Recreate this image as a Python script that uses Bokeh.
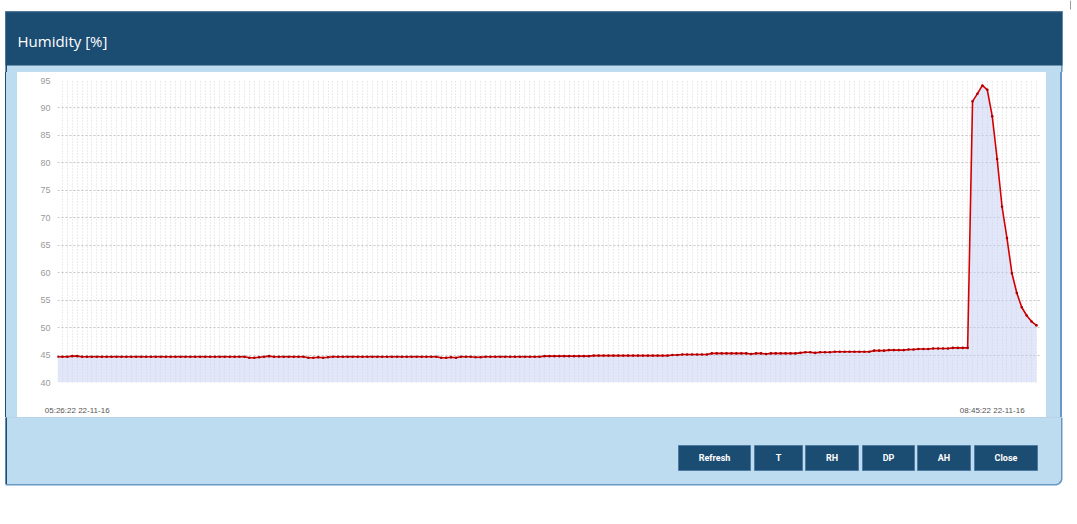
import numpy as np
import pandas as pd
from bokeh.plotting import figure
from bokeh.layouts import column, row
from bokeh.models import Range1d, FixedTicker, Spacer
from bokeh.core.properties import value
from bokeh.embed import file_html
from bokeh.resources import INLINE

# ---------------- data ----------------
TITLE = "Humidity [%]"
START_TIME = "2016-11-22 05:26:22"
X_LABELS = ["05:26:22 22-11-16", "08:45:22 22-11-16"]
Y_TICKS = [40, 45, 50, 55, 60, 65, 70, 75, 80, 85, 90, 95]
BUTTONS = ["Refresh", "T", "RH", "DP", "AH", "Close"]
HUMIDITY = [
    44.7, 44.7, 44.7, 44.8, 44.8, 44.7, 44.7, 44.7, 44.7, 44.7,
    44.7, 44.7, 44.7, 44.7, 44.7, 44.7, 44.7, 44.7, 44.7, 44.7,
    44.7, 44.7, 44.7, 44.7, 44.7, 44.7, 44.7, 44.7, 44.7, 44.7,
    44.7, 44.7, 44.7, 44.7, 44.7, 44.7, 44.7, 44.7, 44.7, 44.5,
    44.5, 44.6, 44.7, 44.8, 44.7, 44.7, 44.7, 44.7, 44.7, 44.7,
    44.7, 44.5, 44.5, 44.6, 44.5, 44.6, 44.7, 44.7, 44.7, 44.7,
    44.7, 44.7, 44.7, 44.7, 44.7, 44.7, 44.7, 44.7, 44.7, 44.7,
    44.7, 44.7, 44.7, 44.7, 44.7, 44.7, 44.7, 44.7, 44.5, 44.5,
    44.6, 44.5, 44.7, 44.7, 44.7, 44.6, 44.6, 44.7, 44.7, 44.7,
    44.7, 44.7, 44.7, 44.7, 44.7, 44.7, 44.7, 44.7, 44.7, 44.8,
    44.8, 44.8, 44.8, 44.8, 44.8, 44.8, 44.8, 44.8, 44.8, 44.9,
    44.9, 44.9, 44.9, 44.9, 44.9, 44.9, 44.9, 44.9, 44.9, 44.9,
    44.9, 44.9, 44.9, 44.9, 44.9, 45.0, 45.0, 45.1, 45.1, 45.1,
    45.1, 45.1, 45.1, 45.3, 45.3, 45.3, 45.3, 45.3, 45.3, 45.3,
    45.3, 45.2, 45.3, 45.3, 45.2, 45.3, 45.3, 45.3, 45.3, 45.3,
    45.3, 45.4, 45.5, 45.5, 45.4, 45.5, 45.5, 45.5, 45.6, 45.6,
    45.6, 45.6, 45.6, 45.6, 45.6, 45.6, 45.8, 45.8, 45.8, 45.9,
    45.9, 45.9, 45.9, 46.0, 46.0, 46.1, 46.1, 46.1, 46.2, 46.2,
    46.2, 46.2, 46.3, 46.3, 46.3, 46.3, 91.2, 92.6, 94.1, 93.3,
    88.5, 80.7, 72.0, 66.3, 59.9, 56.3, 53.7, 52.2, 51.1, 50.4,
]

times = pd.date_range(START_TIME, periods=len(HUMIDITY), freq="min")

# ---------------- styling / layout constants (page pixels) ----------------
LIGHT = "#bedcf0"
DARK = "#1b4c72"
EDGE = "#6a98c4"
TOTAL_W = 1072
PANEL_L, PANEL_R = 5, 1062
BOX_L, BOX_R, BOX_T, BOX_B = 17, 1046, 72, 417      # white chart box
FR_L, FR_R, FR_T, FR_B = 57, 1040, 80, 383          # plot frame
HEAD_T, HEAD_B = 11, 65
BODY_B = 485
BTN_T, BTN_B = 445, 470
BTN_X = [(678, 750), (754, 802), (805, 858), (862, 914), (917, 970), (974, 1037)]


def deco(x0, x1, y0, y1):
    f = figure(width=x1 - x0, height=y1 - y0, x_range=Range1d(x0, x1), y_range=Range1d(y1, y0),
               output_backend="svg", toolbar_location=None,
               x_axis_location=None, y_axis_location=None, min_border=0,
               background_fill_color="white", border_fill_color="white")
    f.outline_line_color = None
    f.xgrid.visible = False
    f.ygrid.visible = False
    return f


# ---- header (+ top strip of the light body) ----
head = deco(0, TOTAL_W, 0, BOX_T)
head.quad(left=PANEL_L, right=PANEL_R, top=HEAD_T, bottom=BOX_T, fill_color=LIGHT, line_color=None)
head.quad(left=PANEL_L, right=PANEL_L + 1.5, top=HEAD_T, bottom=BOX_T, fill_color=DARK, line_color=None)
head.quad(left=PANEL_R - 1.5, right=PANEL_R, top=HEAD_T, bottom=BOX_T, fill_color=EDGE, line_color=None)
head.quad(left=PANEL_L, right=PANEL_R, top=HEAD_T, bottom=HEAD_B, fill_color=DARK, line_color=None)
head.quad(left=PANEL_L, right=PANEL_R, top=HEAD_T - 0.5, bottom=HEAD_T + 0.8, fill_color="#4f7597", line_color=None)
head.quad(left=1069.5, right=1070.5, top=0, bottom=9, fill_color="#9a9a9a", line_color=None)
head.text(x=[BOX_L], y=[(HEAD_T + HEAD_B) / 2 + 2], text=[TITLE], text_color="white",
          text_font=value("Open Sans"), text_font_size="15px",
          text_align="left", text_baseline="middle")

# ---- left / right strips beside the chart box ----
side_h = BOX_B - BOX_T
left = Spacer(width=BOX_L, height=side_h, styles={
    "background": f"linear-gradient(to right, #ffffff 0px, #ffffff {PANEL_L}px, {DARK} {PANEL_L}px, "
                  f"{DARK} {PANEL_L + 1.5}px, {LIGHT} {PANEL_L + 1.5}px, {LIGHT} 100%)"})
rw = TOTAL_W - BOX_R
r_edge = PANEL_R - BOX_R
right = Spacer(width=rw, height=side_h, styles={
    "background": f"linear-gradient(to right, {LIGHT} 0px, {LIGHT} {r_edge - 1.5}px, {EDGE} {r_edge - 1.5}px, "
                  f"{EDGE} {r_edge}px, #ffffff {r_edge}px, #ffffff 100%)"})


# ---- bottom part with buttons ----
def rounded(x0, x1, y0, y1, r):
    a = np.linspace(0, np.pi / 2, 10)
    xs = [x0, x1] + list(x1 - r + r * np.cos(a)) + [x0]
    ys = [y0, y0] + list(y1 - r + r * np.sin(a)) + [y1]
    return xs, ys


bot = deco(0, TOTAL_W, BOX_B, BODY_B + 7)
ox, oy = rounded(PANEL_L, PANEL_R, BOX_B - 1, BODY_B, 7)
bot.patch(ox, oy, fill_color=EDGE, line_color=None)
ix, iy = rounded(PANEL_L + 1.5, PANEL_R - 1.5, BOX_B - 1, BODY_B - 1.5, 6)
bot.patch(ix, iy, fill_color=LIGHT, line_color=None)
bot.quad(left=PANEL_L, right=PANEL_L + 1.5, top=BOX_B - 1, bottom=BODY_B - 1.5, fill_color=DARK, line_color=None)
bot.quad(left=[l for l, r in BTN_X], right=[r for l, r in BTN_X], top=BTN_T, bottom=BTN_B,
         fill_color=DARK, line_color="#4d7aa3", line_width=1)
bot.text(x=[(l + r) / 2 for l, r in BTN_X], y=(BTN_T + BTN_B) / 2, text=BUTTONS,
         text_color="white", text_font=value("Roboto"), text_font_style="bold",
         text_font_size="9px", text_align="center", text_baseline="middle")

# ---- chart ----
t0 = times[0]
px_per_min = (1036 - FR_L) / (len(HUMIDITY) - 1)
t_end = t0 + pd.Timedelta(minutes=(FR_R - FR_L) / px_per_min)
ms = [t.value / 1e6 for t in times]

p = figure(width=BOX_R - BOX_L, height=BOX_B - BOX_T, x_axis_type="datetime",
           x_range=Range1d(t0, t_end), y_range=Range1d(Y_TICKS[0], Y_TICKS[-1]),
           output_backend="svg", toolbar_location=None,
           min_border_left=FR_L - BOX_L, min_border_right=BOX_R - FR_R,
           min_border_top=FR_T - BOX_T, min_border_bottom=BOX_B - FR_B,
           background_fill_color="white", border_fill_color="white")
p.outline_line_color = None

# x labels: first and last time stamps, placed under the left and right ends
lab_ticks = [ms[4], ms[190]]
xa = p.xaxis[0]
xa.ticker = FixedTicker(ticks=lab_ticks)
xa.major_label_overrides = {lab_ticks[0]: X_LABELS[0], lab_ticks[1]: X_LABELS[1]}
xa.axis_line_color = None
xa.major_tick_line_color = None
xa.minor_tick_line_color = None
xa.major_tick_out = 0
xa.major_label_standoff = 23
xa.major_label_text_font = "Liberation Sans"
xa.major_label_text_font_size = "8px"
xa.major_label_text_color = "#555555"

ya = p.yaxis[0]
ya.ticker = FixedTicker(ticks=Y_TICKS)
ya.axis_line_color = None
ya.major_tick_line_color = None
ya.minor_tick_line_color = None
ya.major_tick_out = 0
ya.major_label_standoff = 7
ya.major_label_text_font = "Liberation Sans"
ya.major_label_text_font_size = "9px"
ya.major_label_text_color = "#9a9a9a"

p.ygrid.ticker = FixedTicker(ticks=Y_TICKS)
p.ygrid.grid_line_color = "#c4c4c4"
p.ygrid.grid_line_dash = "2 2"
p.xgrid.ticker = FixedTicker(ticks=ms)
p.xgrid.grid_line_color = "#d8d8d8"
p.xgrid.grid_line_dash = "1 2"

p.varea(x=times, y1=Y_TICKS[0], y2=HUMIDITY, fill_color="#c5cdf3", fill_alpha=0.5)
p.line(x=times, y=HUMIDITY, line_color="#d40000", line_width=1.6)
p.scatter(x=times, y=HUMIDITY, size=2.6, fill_color="#a80000", line_color=None)

layout = column(head, row(left, p, right), bot)
open("out.html", "w").write(file_html(layout, INLINE))
